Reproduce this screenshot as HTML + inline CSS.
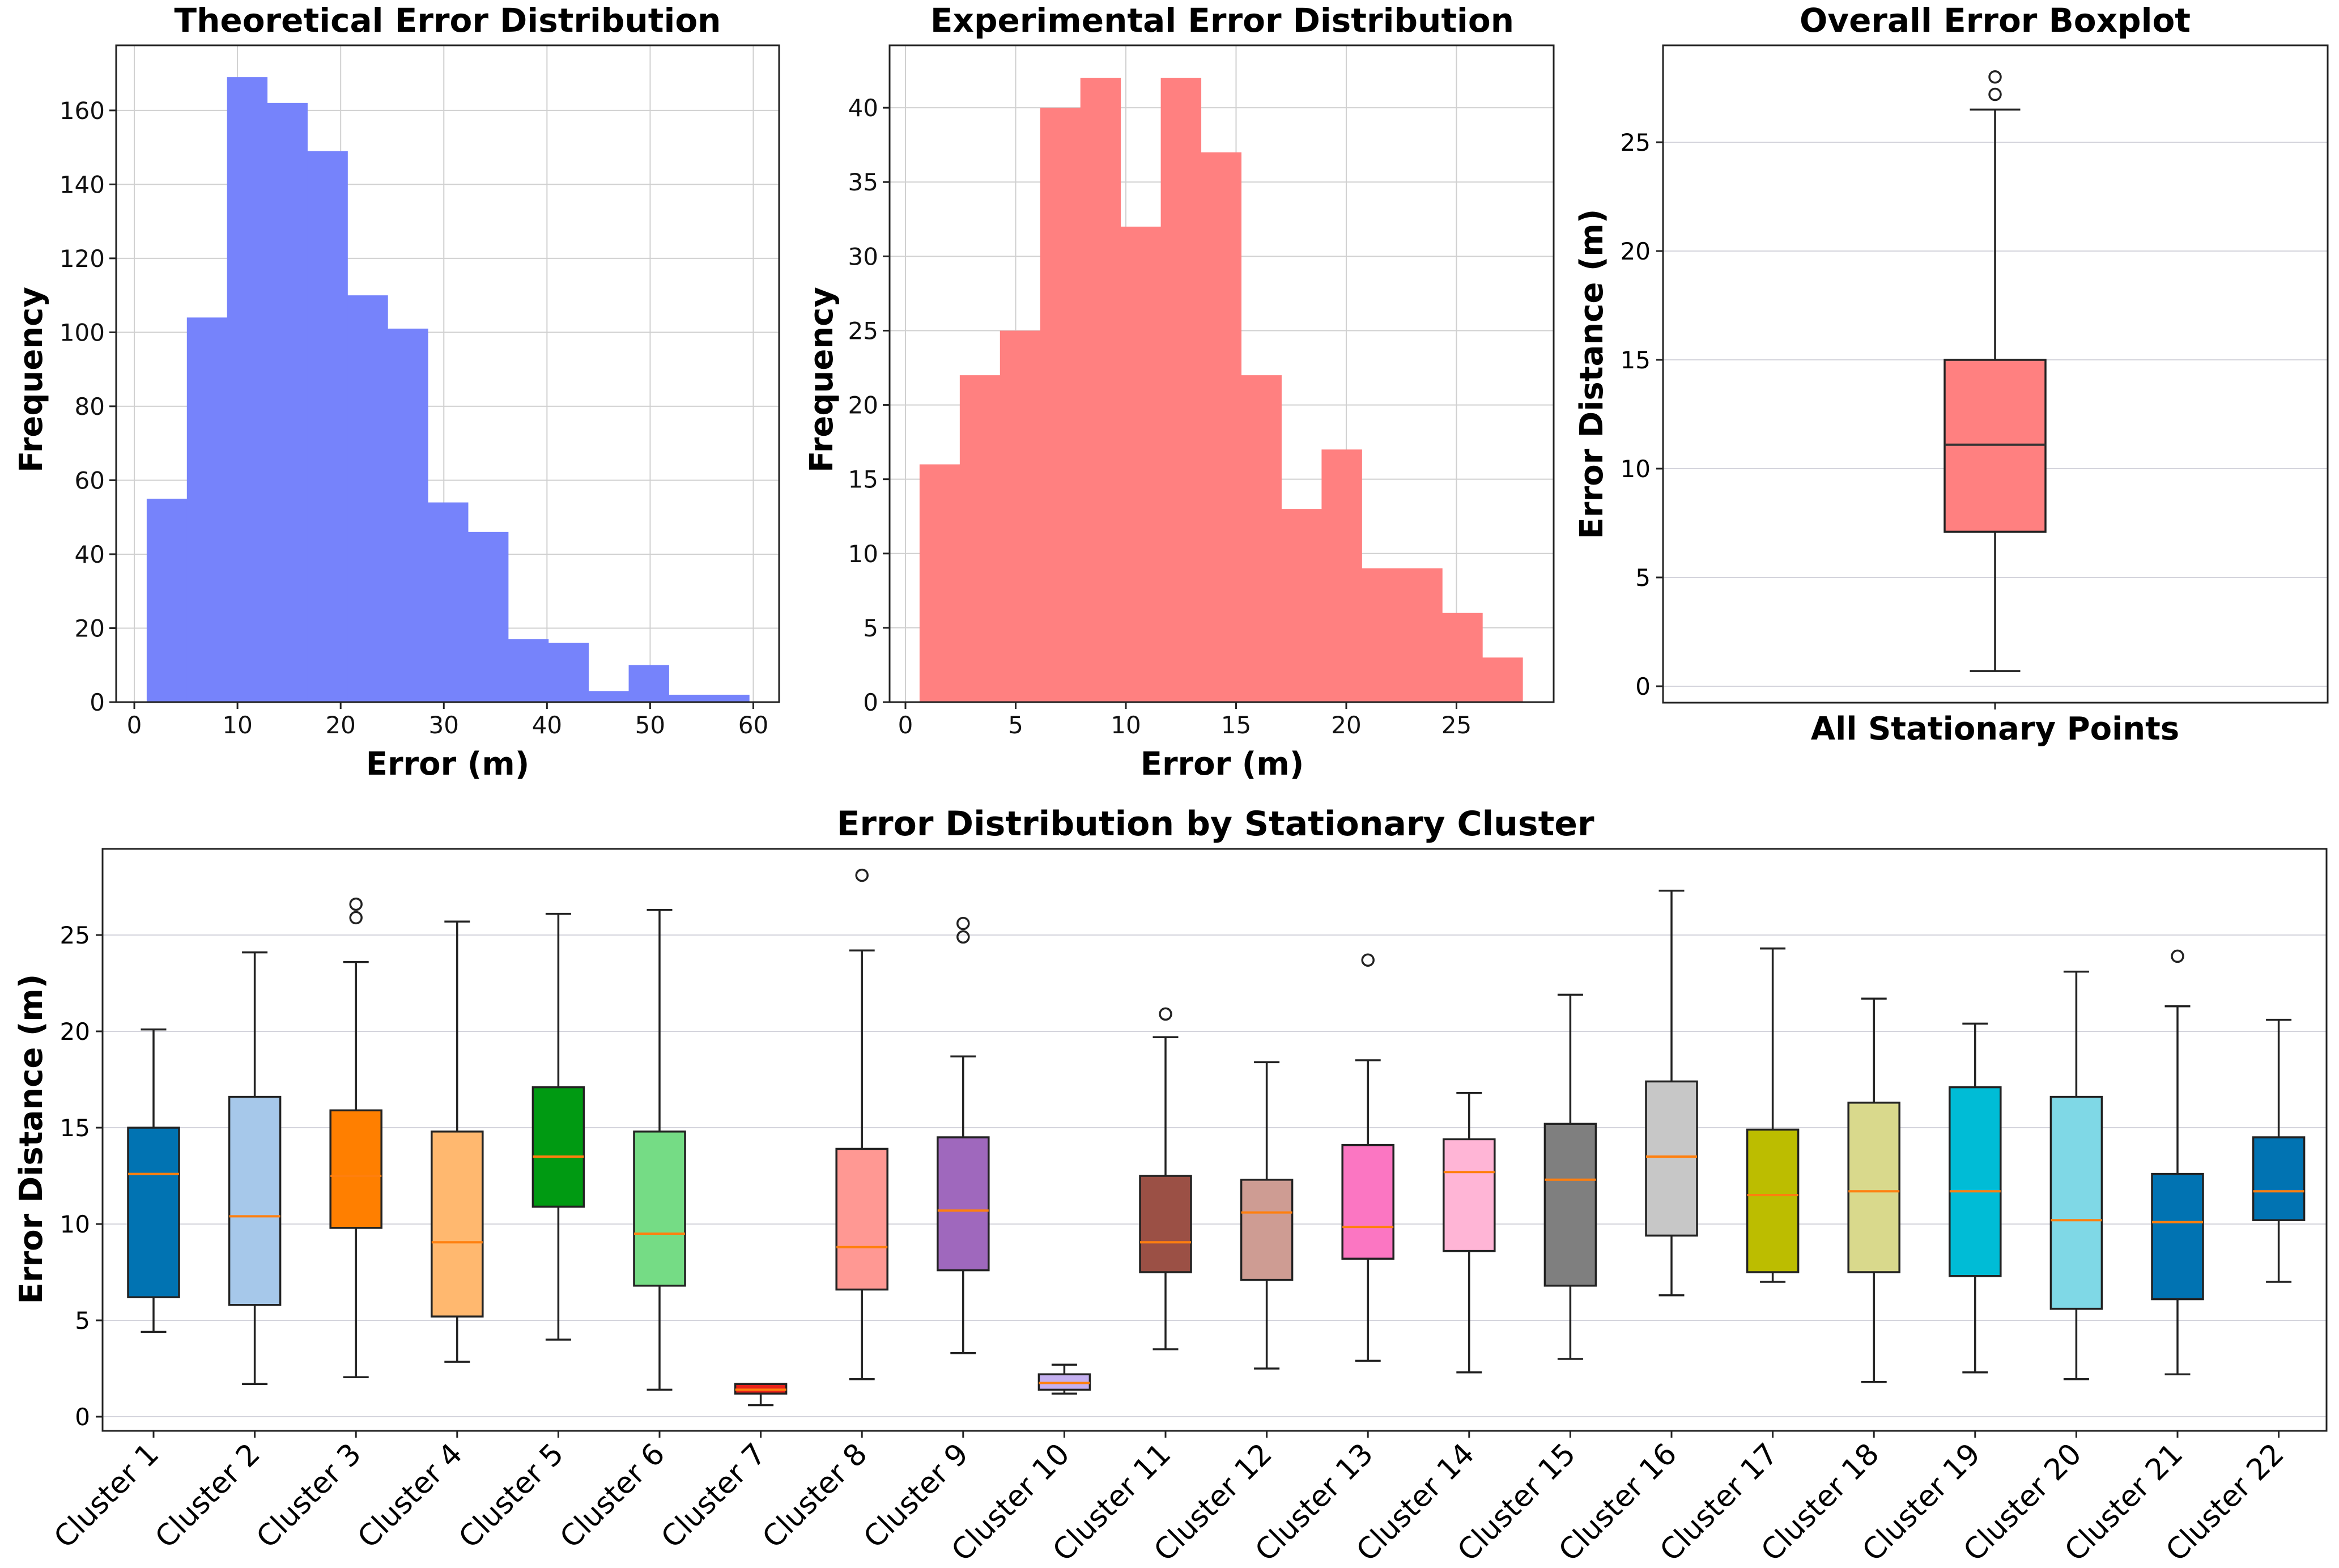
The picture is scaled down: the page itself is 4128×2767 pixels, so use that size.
<!DOCTYPE html>
<html><head><meta charset="utf-8"><style>
html,body{margin:0;padding:0;background:#fff;}
svg{display:block;font-family:"DejaVu Sans","Liberation Sans",sans-serif;}
</style></head><body>
<svg id="fig" width="4128" height="2767" viewBox="0 0 4128 2767" xmlns="http://www.w3.org/2000/svg"></svg>
<script>
const theoCounts=[55,104,169,162,149,110,101,54,46,17,16,3,10,2,2];
const theoRange=[1.2,59.6];
const theoXTicks=[0,10,20,30,40,50,60];
const theoYTicks=[0,20,40,60,80,100,120,140,160];
const expCounts=[16,22,25,40,42,32,42,37,22,13,17,9,9,6,3];
const expRange=[0.64,28.0];
const expXTicks=[0,5,10,15,20,25];
const expYTicks=[0,5,10,15,20,25,30,35,40];
const overallStats=[0.7,7.1,11.1,15.0,26.5];
const overallOutliers=[27.2,28.0];
const boxYTicks=[0,5,10,15,20,25];
const clusterNames=["Cluster 1","Cluster 2","Cluster 3","Cluster 4","Cluster 5","Cluster 6","Cluster 7","Cluster 8","Cluster 9","Cluster 10","Cluster 11","Cluster 12","Cluster 13","Cluster 14","Cluster 15","Cluster 16","Cluster 17","Cluster 18","Cluster 19","Cluster 20","Cluster 21","Cluster 22"];
const clusterLow=[4.4,1.7,2.05,2.85,4.0,1.4,0.6,1.95,3.3,1.2,3.5,2.5,2.9,2.3,3.0,6.3,7.0,1.8,2.3,1.95,2.2,7.0];
const clusterQ1=[6.2,5.8,9.8,5.2,10.9,6.8,1.2,6.6,7.6,1.4,7.5,7.1,8.2,8.6,6.8,9.4,7.5,7.5,7.3,5.6,6.1,10.2];
const clusterMed=[12.6,10.4,12.5,9.05,13.5,9.5,1.4,8.8,10.7,1.75,9.05,10.6,9.85,12.7,12.3,13.5,11.5,11.7,11.7,10.2,10.1,11.7];
const clusterQ3=[15.0,16.6,15.9,14.8,17.1,14.8,1.7,13.9,14.5,2.2,12.5,12.3,14.1,14.4,15.2,17.4,14.9,16.3,17.1,16.6,12.6,14.5];
const clusterHigh=[20.1,24.1,23.6,25.7,26.1,26.3,1.7,24.2,18.7,2.7,19.7,18.4,18.5,16.8,21.9,27.3,24.3,21.7,20.4,23.1,21.3,20.6];
const clusterOutliers=[[],[],[26.6,25.9],[],[],[],[],[28.1],[25.6,24.9],[],[20.9],[],[23.7],[],[],[],[],[],[],[],[23.9],[]];
const clusterColors=["#0173b2","#a6c8ea","#ff7f00","#ffb86f","#009a12","#75dc85","#e8221a","#ff9893","#9f68bd","#c5b0f0","#9b5045","#ce9c93","#fb76c2","#ffb5d6","#7f7f7f","#c7c7c7","#bcbd00","#d9d98c","#00bcd6","#7fd8e6","#0173b2","#0173b2"];

const NS="http://www.w3.org/2000/svg";
const svg=document.getElementById('fig');
function mk(tag,attrs,parent,txt){const e=document.createElementNS(NS,tag);for(const k in attrs)e.setAttribute(k,attrs[k]);if(txt!==undefined)e.textContent=txt;(parent||svg).appendChild(e);return e;}
function lin(d0,d1,r0,r1){return v=>r0+(v-d0)*(r1-r0)/(d1-d0);}

function axesFrame(g,L,T,R,B){
  const f=mk('rect',{x:L,y:T,width:R-L,height:B-T,fill:'none',stroke:'#222',"stroke-width":3},g);
  
}
function title(txt,x,y,name,size){const t=mk('text',{x:x,y:y,"text-anchor":"middle","font-size":size||58,"font-weight":"bold",fill:"#000"},svg,txt);}
function ylab(txt,x,y,name){const t=mk('text',{x:0,y:0,transform:`translate(${x},${y}) rotate(-90)`,"text-anchor":"middle","font-size":56,"font-weight":"bold",fill:"#000"},svg,txt);}

function hist(counts,range,xt,yt,L,T,R,B,xr,yr,color,pre){
  const g=mk('g',{});
  const X=lin(xr[0],xr[1],L,R),Y=lin(yr[0],yr[1],B,T);
  xt.forEach(v=>{const l=mk('line',{x1:X(v),x2:X(v),y1:T,y2:B,stroke:'#d0d0d0',"stroke-width":2},g);});
  yt.forEach(v=>{const l=mk('line',{x1:L,x2:R,y1:Y(v),y2:Y(v),stroke:'#d0d0d0',"stroke-width":2},g);});
  const w=(range[1]-range[0])/counts.length;
  counts.forEach((c,i)=>{const x0=X(range[0]+i*w),x1=X(range[0]+(i+1)*w);
    const r=mk('rect',{x:x0,y:Y(c),width:x1-x0+0.5,height:Y(0)-Y(c),fill:color},g);
    });
  axesFrame(g,L,T,R,B);
  xt.forEach(v=>{mk('line',{x1:X(v),x2:X(v),y1:B,y2:B+12,stroke:'#222',"stroke-width":3},g);
    const t=mk('text',{x:X(v),y:B+55,"text-anchor":"middle","font-size":42,fill:"#111"},g,v);});
  yt.forEach(v=>{mk('line',{x1:L-12,x2:L,y1:Y(v),y2:Y(v),stroke:'#222',"stroke-width":3},g);
    const t=mk('text',{x:L-20,y:Y(v)+15,"text-anchor":"end","font-size":42,fill:"#111"},g,v);});
}
hist(theoCounts,theoRange,theoXTicks,theoYTicks,205,80,1375,1239,[-1.76,62.5],[0,177.6],'#7683fb','theoretical');
hist(expCounts,expRange,expXTicks,expYTicks,1570,80,2742,1239,[-0.72,29.41],[0,44.2],'#ff8080','experimental');
title('Theoretical Error Distribution',790,56,'theoretical-title');
title('Experimental Error Distribution',2157,56,'experimental-title');
title('Overall Error Boxplot',3521,56,'overall-boxplot-title');
const xl1=mk('text',{x:790,y:1367,"text-anchor":"middle","font-size":56,"font-weight":"bold"},svg,'Error (m)');
const xl2=mk('text',{x:2157,y:1367,"text-anchor":"middle","font-size":56,"font-weight":"bold"},svg,'Error (m)');
ylab('Frequency',74,670,'theoretical-y-axis-title');
ylab('Frequency',1469,670,'experimental-y-axis-title');

function boxplot(g,cx,bw,st,med,outs,color,Y,medColor,name){
  const [lo,q1,m,q3,hi]=[st[0],st[1],med,st[3],st[4]];
  const w1=mk('line',{x1:cx,x2:cx,y1:Y(q3),y2:Y(hi),stroke:'#222',"stroke-width":3.5},g);
  const w2=mk('line',{x1:cx,x2:cx,y1:Y(q1),y2:Y(lo),stroke:'#222',"stroke-width":3.5},g);
  mk('line',{x1:cx-bw/4,x2:cx+bw/4,y1:Y(hi),y2:Y(hi),stroke:'#222',"stroke-width":3.5},g);
  mk('line',{x1:cx-bw/4,x2:cx+bw/4,y1:Y(lo),y2:Y(lo),stroke:'#222',"stroke-width":3.5},g);
  const b=mk('rect',{x:cx-bw/2,y:Y(q3),width:bw,height:Y(q1)-Y(q3),fill:color,stroke:'#222',"stroke-width":3.5},g);
  const ml=mk('line',{x1:cx-bw/2,x2:cx+bw/2,y1:Y(m),y2:Y(m),stroke:medColor,"stroke-width":4},g);
  outs.forEach(o=>{const c=mk('circle',{cx:cx,cy:Y(o),r:10,fill:'none',stroke:'#222',"stroke-width":3.5},g);});
}
(function(){
  const L=2935,T=80,R=4108,B=1240;const Y=lin(0,25,1211,251);
  const g=mk('g',{});
  boxYTicks.forEach(v=>{const l=mk('line',{x1:L,x2:R,y1:Y(v),y2:Y(v),stroke:'#d4d4dc',"stroke-width":2},g);
    mk('line',{x1:L-12,x2:L,y1:Y(v),y2:Y(v),stroke:'#222',"stroke-width":3},g);
    const t=mk('text',{x:L-22,y:Y(v)+15,"text-anchor":"end","font-size":42},g,v);});
  boxplot(g,3521,178,overallStats,overallStats[2],overallOutliers,'#ff8080',Y,'#333','overall');
  axesFrame(g,L,T,R,B);
  mk('line',{x1:3521,x2:3521,y1:B,y2:B+12,stroke:'#222',"stroke-width":3},g);
  const t=mk('text',{x:3521,y:1305,"text-anchor":"middle","font-size":56,"font-weight":"bold"},g,'All Stationary Points');
})();
ylab('Error Distance (m)',2828,660,'overall-y-axis-title');

(function(){
  const L=181,T=1498,R=4106,B=2525;const Y=lin(0,25,2500,1650);
  const X=i=>271+i*178.6;
  const g=mk('g',{});
  boxYTicks.forEach(v=>{const l=mk('line',{x1:L,x2:R,y1:Y(v),y2:Y(v),stroke:'#d4d4dc',"stroke-width":2},g);
    mk('line',{x1:L-12,x2:L,y1:Y(v),y2:Y(v),stroke:'#222',"stroke-width":3},g);
    const t=mk('text',{x:L-22,y:Y(v)+15,"text-anchor":"end","font-size":42},g,v);});
  clusterNames.forEach((n,i)=>{
    boxplot(g,X(i),90,[clusterLow[i],clusterQ1[i],0,clusterQ3[i],clusterHigh[i]],clusterMed[i],clusterOutliers[i],clusterColors[i],Y,'#ff7f0e','cluster-'+(i+1));
    mk('line',{x1:X(i),x2:X(i),y1:B,y2:B+12,stroke:'#222',"stroke-width":3},g);
    const t=mk('text',{x:0,y:0,transform:`translate(${X(i)+12},${B+44}) rotate(-45)`,"text-anchor":"end","font-size":52},g,n);
    
  });
  axesFrame(g,L,T,R,B);
})();
title('Error Distribution by Stationary Cluster',2145,1474,'cluster-boxplot-title',60);
ylab('Error Distance (m)',74,2010,'cluster-y-axis-title');
</script>
</body></html>
